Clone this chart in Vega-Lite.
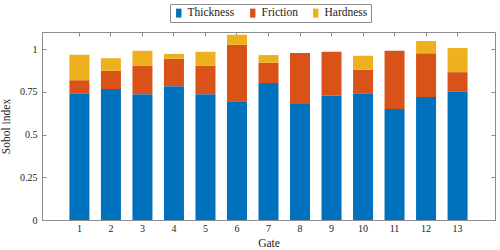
{
  "$schema": "https://vega.github.io/schema/vega-lite/v6.json",
  "width": 453,
  "height": 188,
  "autosize": "none",
  "padding": {"left": 42, "top": 32, "right": 5, "bottom": 30},
  "background": "white",
  "config": {
    "font": "Liberation Serif, serif",
    "view": {"stroke": "#8c8c8c", "strokeWidth": 1},
    "axis": {"domainColor": "#8c8c8c", "tickColor": "#8c8c8c", "grid": false, "labelColor": "#222", "titleColor": "#222", "labelFont": "Liberation Serif, serif", "titleFont": "Liberation Serif, serif", "titleFontWeight": "normal", "labelFontSize": 10, "titleFontSize": 11.5},
    "legend": {"labelFont": "Liberation Serif, serif"}
  },
  "data": {"values": [
    {"gate": 1, "param": "Thickness", "k": 1, "value": 0.738},
    {"gate": 1, "param": "Friction", "k": 2, "value": 0.080},
    {"gate": 1, "param": "Hardness", "k": 3, "value": 0.149},
    {"gate": 2, "param": "Thickness", "k": 1, "value": 0.766},
    {"gate": 2, "param": "Friction", "k": 2, "value": 0.107},
    {"gate": 2, "param": "Hardness", "k": 3, "value": 0.074},
    {"gate": 3, "param": "Thickness", "k": 1, "value": 0.736},
    {"gate": 3, "param": "Friction", "k": 2, "value": 0.166},
    {"gate": 3, "param": "Hardness", "k": 3, "value": 0.088},
    {"gate": 4, "param": "Thickness", "k": 1, "value": 0.783},
    {"gate": 4, "param": "Friction", "k": 2, "value": 0.160},
    {"gate": 4, "param": "Hardness", "k": 3, "value": 0.029},
    {"gate": 5, "param": "Thickness", "k": 1, "value": 0.736},
    {"gate": 5, "param": "Friction", "k": 2, "value": 0.166},
    {"gate": 5, "param": "Hardness", "k": 3, "value": 0.082},
    {"gate": 6, "param": "Thickness", "k": 1, "value": 0.695},
    {"gate": 6, "param": "Friction", "k": 2, "value": 0.330},
    {"gate": 6, "param": "Hardness", "k": 3, "value": 0.059},
    {"gate": 7, "param": "Thickness", "k": 1, "value": 0.801},
    {"gate": 7, "param": "Friction", "k": 2, "value": 0.119},
    {"gate": 7, "param": "Hardness", "k": 3, "value": 0.045},
    {"gate": 8, "param": "Thickness", "k": 1, "value": 0.678},
    {"gate": 8, "param": "Friction", "k": 2, "value": 0.299},
    {"gate": 8, "param": "Hardness", "k": 3, "value": 0.0},
    {"gate": 9, "param": "Thickness", "k": 1, "value": 0.727},
    {"gate": 9, "param": "Friction", "k": 2, "value": 0.257},
    {"gate": 9, "param": "Hardness", "k": 3, "value": 0.0},
    {"gate": 10, "param": "Thickness", "k": 1, "value": 0.738},
    {"gate": 10, "param": "Friction", "k": 2, "value": 0.141},
    {"gate": 10, "param": "Hardness", "k": 3, "value": 0.082},
    {"gate": 11, "param": "Thickness", "k": 1, "value": 0.649},
    {"gate": 11, "param": "Friction", "k": 2, "value": 0.341},
    {"gate": 11, "param": "Hardness", "k": 3, "value": 0.0},
    {"gate": 12, "param": "Thickness", "k": 1, "value": 0.719},
    {"gate": 12, "param": "Friction", "k": 2, "value": 0.256},
    {"gate": 12, "param": "Hardness", "k": 3, "value": 0.072},
    {"gate": 13, "param": "Thickness", "k": 1, "value": 0.750},
    {"gate": 13, "param": "Friction", "k": 2, "value": 0.115},
    {"gate": 13, "param": "Hardness", "k": 3, "value": 0.141}
  ]},
  "layer": [
    {
      "mark": {"type": "bar"},
      "encoding": {
        "x": {"field": "gate", "type": "ordinal", "title": "Gate",
          "scale": {"paddingInner": 0.365, "paddingOuter": 0.87},
          "axis": {"labelAngle": 0, "tickSize": -4, "labelPadding": 7, "titlePadding": 4, "domain": true}},
        "y": {"field": "value", "type": "quantitative", "stack": "zero", "title": "Sobol index",
          "scale": {"domain": [0, 1.1], "nice": false, "zero": true},
          "axis": {"values": [0, 0.25, 0.5, 0.75, 1], "format": ".2~f", "tickSize": -4, "labelPadding": 9, "titlePadding": 8}},
        "color": {"field": "param", "type": "nominal",
          "scale": {"domain": ["Thickness", "Friction", "Hardness"], "range": ["#0072BD", "#D95319", "#EDB120"]},
          "legend": {"title": null, "orient": "none", "legendX": 128, "legendY": -28, "direction": "horizontal",
            "strokeColor": "#8c8c8c", "padding": 3, "labelFont": "Liberation Serif, serif", "labelFontSize": 11.5, "labelColor": "#222",
            "symbolType": "M-0.6,-1H0.6V1H-0.6Z", "symbolSize": 81, "symbolStrokeWidth": 0, "symbolOpacity": 1,
            "labelOffset": 3, "columnPadding": 12}},
        "order": {"field": "k", "type": "quantitative"}
      }
    },
    {
      "mark": {"type": "bar", "opacity": 0},
      "encoding": {
        "x": {"field": "gate", "type": "ordinal",
          "axis": {"orient": "top", "labels": false, "title": null, "tickSize": -4, "domain": false}},
        "y": {"field": "value", "type": "quantitative", "stack": "zero",
          "axis": {"orient": "right", "labels": false, "title": null, "values": [0, 0.25, 0.5, 0.75, 1], "tickSize": -4, "domain": false}},
        "order": {"field": "k", "type": "quantitative"}
      }
    }
  ],
  "resolve": {"axis": {"x": "independent", "y": "independent"}}
}
